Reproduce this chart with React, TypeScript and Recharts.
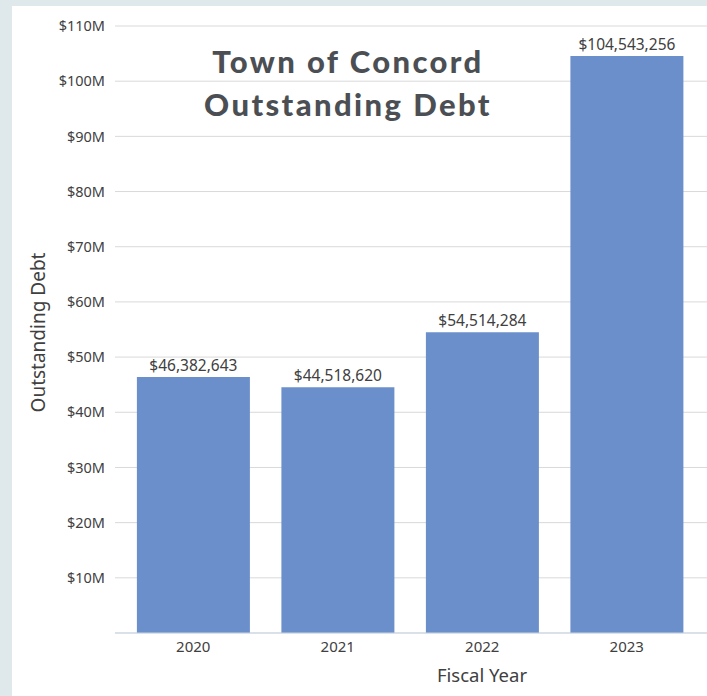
import React from 'react';
import { BarChart, Bar, XAxis, YAxis, CartesianGrid, LabelList, Label } from 'recharts';

const years = ['2020', '2021', '2022', '2023'];
const debt = [46382643, 44518620, 54514284, 104543256];
const yTicks = [0, 10e6, 20e6, 30e6, 40e6, 50e6, 60e6, 70e6, 80e6, 90e6, 100e6, 110e6];

const data = years.map((y, i) => ({ year: y, debt: debt[i] }));

const money = new Intl.NumberFormat('en-US', { style: 'currency', currency: 'USD', minimumFractionDigits: 0, maximumFractionDigits: 0 });

const FONT = '"Noto Sans", "Open Sans", sans-serif';

export default function App() {
  return (
    <div style={{ position: 'absolute', left: 0, top: 0, width: 707, height: 696, background: '#dfe8ea', overflow: 'hidden' }}>
      <div style={{ position: 'absolute', left: 12, top: 6, width: 695, height: 690, background: '#ffffff' }}>
        <BarChart width={695} height={690} data={data} margin={{ top: 20, right: 0, bottom: 33, left: 0 }} barCategoryGap="11%">
          <CartesianGrid vertical={false} stroke="#d9d9d9" />
          <XAxis
            dataKey="year"
            tickLine={false}
            axisLine={{ stroke: '#c9d5e6' }}
            padding={{ left: 6, right: 8 }}
            tick={{ fontSize: 15, fill: '#404040', fontFamily: FONT }}
            tickMargin={2}
          >
            <Label value="Fiscal Year" position="bottom" offset={6} dx={71} style={{ fontSize: 18.5, fill: '#404040', fontFamily: FONT }} />
          </XAxis>
          <YAxis
            width={103}
            domain={[0, 110e6]}
            ticks={yTicks}
            interval={0}
            tickLine={false}
            axisLine={false}
            tickMargin={4}
            tick={{ fontSize: 14.5, fill: '#404040', fontFamily: FONT }}
            tickFormatter={(v: number) => (v === 0 ? '' : `$${v / 1e6}M`)}
          >
            <Label value="Outstanding Debt" angle={-90} position="insideLeft" offset={26} dy={3} style={{ textAnchor: 'middle', fontSize: 19, fill: '#404040', fontFamily: FONT }} />
          </YAxis>
          <Bar dataKey="debt" fill="#6b8fca" isAnimationActive={false}>
            <LabelList dataKey="debt" position="top" offset={6} formatter={(v: any) => money.format(Number(v))} style={{ fontSize: 15.5, fill: '#404040', fontFamily: FONT }} />
          </Bar>
        </BarChart>
        <div style={{ position: 'absolute', left: 0, top: 34, width: 672, textAlign: 'center', fontFamily: 'Lato, sans-serif', fontWeight: 900, fontSize: 31, letterSpacing: 2.4, lineHeight: '43px', color: '#4b4f54' }}>
          Town of Concord<br />Outstanding Debt
        </div>
      </div>
    </div>
  );
}
